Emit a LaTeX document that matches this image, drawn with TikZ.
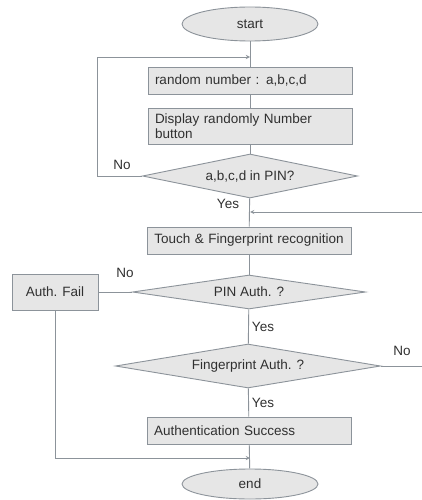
\documentclass[tikz,border=0pt]{standalone}
\usepackage{fontspec}
\setmainfont{Liberation Sans}
\usetikzlibrary{shapes,arrows}
\definecolor{flow edge}{HTML}{8C939A}
\definecolor{flow area}{HTML}{E6E6E6}
\definecolor{flow text}{HTML}{303030}
\tikzset{process/.style={rectangle, fill=flow area, draw=flow edge, line width=0.9pt,
        minimum width=204pt, minimum height=27pt, inner xsep=7pt, text width=190pt, align=left},
    decision/.style={diamond, fill=flow area, draw=flow edge, line width=0.9pt,
        inner sep=0pt, aspect=5},
    terminal/.style={ellipse, fill=flow area, draw=flow edge, line width=0.9pt,
        minimum width=136pt, minimum height=34pt},
    answer/.style={inner sep=1pt},
    flowline/.style={draw=flow edge, line width=0.9pt}}

\begin{document}
\begin{tikzpicture}[x=1pt, y=-1pt, every node/.style={text=flow text, font=\fontsize{13.5}{14.5}\selectfont}]
    \useasboundingbox (0,0) rectangle (422,500);
    % main column
    \node[terminal] (start) at (250,24) {start};
    \node[process] (rand) at (250,80.5) {random number : a,b,c,d};
    \node[process, minimum height=36pt] (disp) at (250,126) {Display randomly Number\\button};
    \node[decision, minimum width=215pt, minimum height=44pt] (inpin) at (250,176) {a,b,c,d in PIN?};
    \node[process, align=center] (touch) at (249,240.5) {Touch \& Fingerprint recognition};
    \node[decision, minimum width=233pt, minimum height=34pt] (pinauth) at (249,292) {PIN Auth. ?};
    \node[decision, minimum width=265pt, minimum height=44pt] (fpauth) at (248,366) {Fingerprint Auth. ?};
    \node[process] (success) at (249,430.5) {Authentication Success};
    \node[terminal, minimum height=30pt] (end) at (250,484) {end};
    % side box
    \node[rectangle, fill=flow area, draw=flow edge, line width=0.9pt,
          minimum width=86pt, minimum height=36pt] (fail) at (55,292) {Auth. Fail};
    % joints
    \coordinate (loopin) at (250,57);
    \coordinate (retry) at (422,212);
    \coordinate (retryin) at (250,212);
    \coordinate (failin) at (250,458);
    \coordinate (fpout) at (422,366);

    \draw[flowline] (start) -- (rand);
    \draw[flowline] (rand) -- (disp);
    \draw[flowline] (disp) -- (inpin);
    \draw[flowline] (inpin) -- (touch);
    \draw[flowline] (touch) -- (pinauth);
    \draw[flowline] (pinauth) -- (fpauth);
    \draw[flowline] (fpauth) -- (success);
    \draw[flowline] (success) -- (end);
    \draw[flowline, -stealth] (inpin.west) -- ++(-45,0) |- (loopin);
    \draw[flowline, -stealth] (retry) -- (retryin);
    \draw[flowline] (pinauth.west) -- (fail.east);
    \draw[flowline, -stealth] (fail.south) |- (failin);
    \draw[flowline] (fpauth.east) -- (fpout);

    \node[answer] (no1) at (122,165) {No};
    \node[answer] (yes1) at (228,204) {Yes};
    \node[answer] (no2) at (125,273) {No};
    \node[answer] (yes2) at (263,327) {Yes};
    \node[answer] (no3) at (402,351) {No};
    \node[answer] (yes3) at (263,403) {Yes};
\end{tikzpicture}
\end{document}
